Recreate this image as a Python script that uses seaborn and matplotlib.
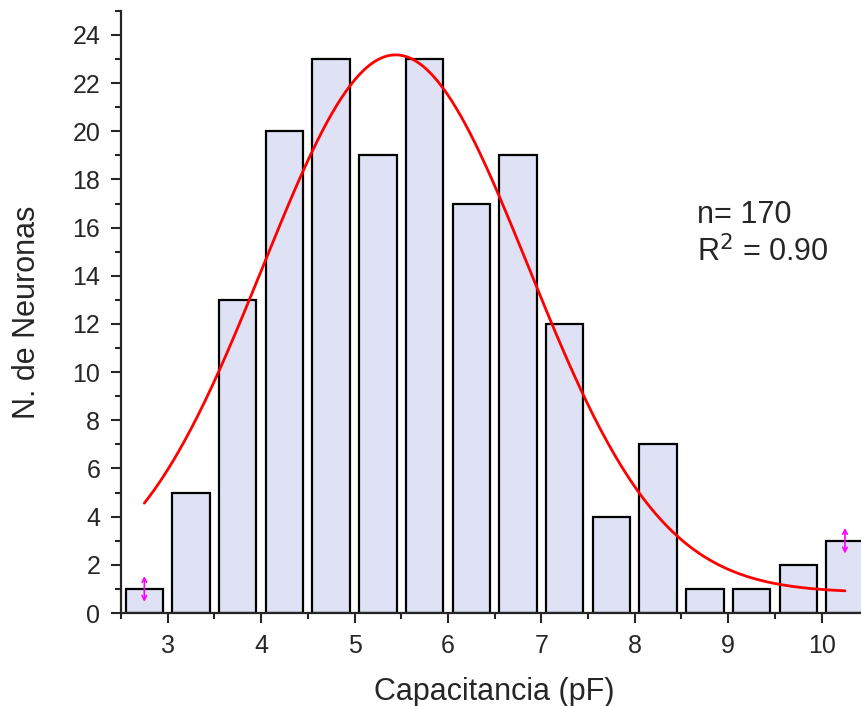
import numpy as np
import pandas as pd
import matplotlib
matplotlib.use("Agg")
import matplotlib.pyplot as plt
from matplotlib.ticker import MultipleLocator
import seaborn as sns

# histograma: centros de clase (pF) y numero de neuronas
bin_centers = [2.75, 3.25, 3.75, 4.25, 4.75, 5.25, 5.75, 6.25,
               6.75, 7.25, 7.75, 8.25, 8.75, 9.25, 9.75, 10.25]
counts = [1, 5, 13, 20, 23, 19, 23, 17, 19, 12, 4, 7, 1, 1, 2, 3]

# ajuste gaussiano (parametros)
fit_y0 = 0.85
fit_xc = 5.44
fit_sigma = 1.42
fit_amp = 22.32
fit_range = (2.75, 10.25)

# marcadores magenta de Origin
marker_x = [2.75, 10.25]
marker_y = [1, 3]

sns.set_style("ticks")
plt.rcParams['font.family'] = ['Liberation Sans', 'DejaVu Sans']

fig = plt.figure(figsize=(8.61, 7.06), dpi=100)
ax = fig.add_axes([0.1405, 0.1317, 0.868, 0.853])

df = pd.DataFrame({'cap': bin_centers, 'n': counts})
sns.barplot(data=df, x='cap', y='n', native_scale=True, width=0.8,
            color='#dfe1f4', edgecolor='black', linewidth=1.6,
            saturation=1, ax=ax, zorder=2)

xs = np.linspace(fit_range[0], fit_range[1], 300)
ys = fit_y0 + fit_amp * np.exp(-(xs - fit_xc) ** 2 / (2 * fit_sigma ** 2))
sns.lineplot(x=xs, y=ys, color='#ff0000', linewidth=2.0, ax=ax, zorder=3)

for mx, my in zip(marker_x, marker_y):
    ax.annotate('', xy=(mx, my + 0.65), xytext=(mx, my - 0.65),
                arrowprops=dict(arrowstyle='<->', color='#ff00ff', lw=1.2,
                                mutation_scale=8), zorder=4)

ax.set_xlim(2.5, 10.5)
ax.set_ylim(0, 25)
ax.xaxis.set_major_locator(MultipleLocator(1))
ax.xaxis.set_minor_locator(MultipleLocator(0.5))
ax.yaxis.set_major_locator(MultipleLocator(2))
ax.yaxis.set_minor_locator(MultipleLocator(1))
ax.tick_params(which='major', length=7, width=1.5, labelsize=18)
ax.tick_params(axis='x', which='major', pad=8)
ax.tick_params(axis='y', which='major', pad=8)
ax.tick_params(which='minor', length=4, width=1.5)

sns.despine(ax=ax)
for s in ['left', 'bottom']:
    ax.spines[s].set_linewidth(1.6)

ax.set_xlabel('Capacitancia (pF)', fontsize=22, labelpad=14)
ax.set_ylabel('N. de Neuronas', fontsize=22, labelpad=22)

ax.text(8.67, 16.2, 'n= 170', fontsize=22)
ax.text(8.67, 14.6, 'R$^2$ = 0.90', fontsize=22)

fig.savefig('out.png', dpi=100)
